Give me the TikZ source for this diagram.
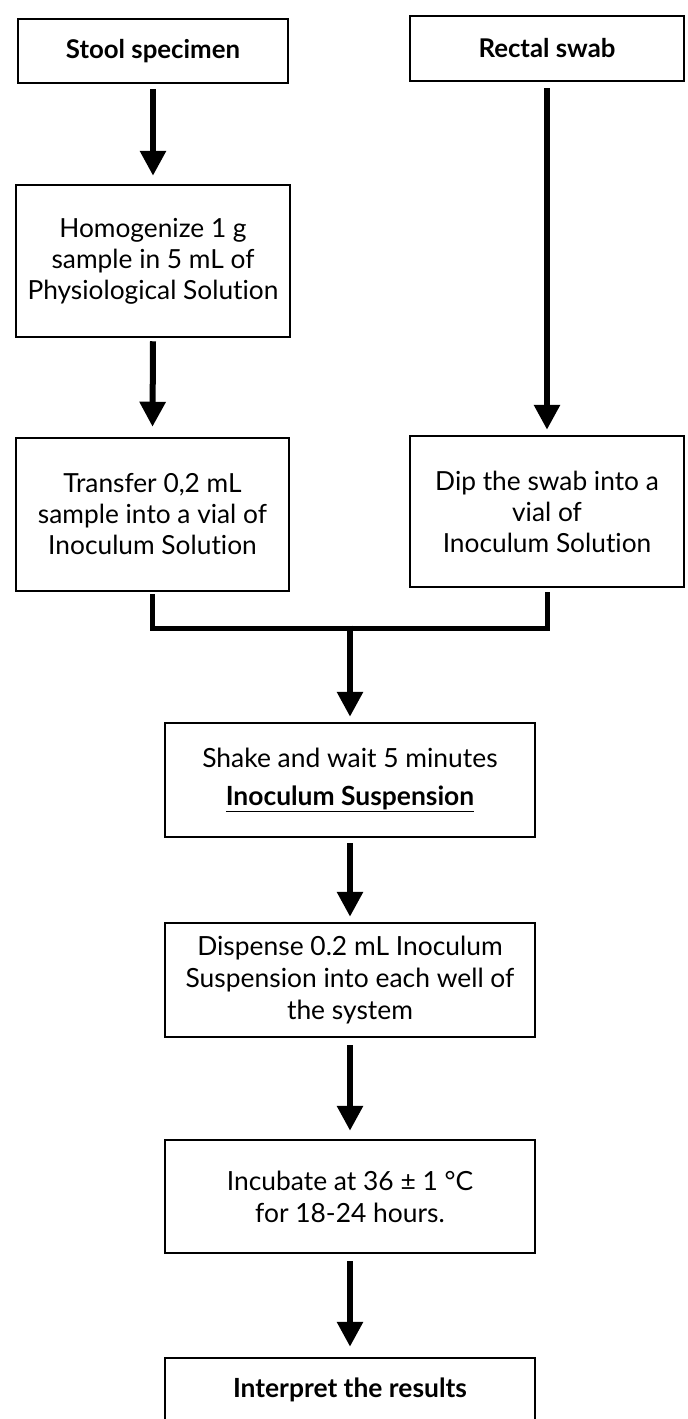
\documentclass[tikz,border=0pt]{standalone}
\usepackage{fontspec}
\setmainfont{Lato}[Ligatures={NoCommon,NoRare,NoContextual}]
\usetikzlibrary{arrows.meta}
\tikzset{
  box/.style={draw=black, line width=2.5pt, fill=white, inner sep=0pt, align=center},
  upbox/.style={box, font=\fontsize{26.3}{31}\selectfont},
  upbold/.style={box, font=\bfseries\fontsize{25.8}{31}\selectfont},
  lowbox/.style={box, font=\fontsize{26.4}{32}\selectfont, minimum width=370pt},
  flow/.style={line width=6pt, -{Triangle[width=25pt,length=25pt]}},
  link/.style={line width=5pt}
}
\begin{document}
\begin{tikzpicture}[x=1pt,y=-1pt]
\useasboundingbox (0,0) rectangle (688,1419);
\begin{scope}
\clip (0,0) rectangle (688,1419);
\node[upbold, minimum width=270pt, minimum height=64pt] (stool) at (153,51) {Stool specimen};
\node[upbold, minimum width=274pt, minimum height=65pt] (rectal) at (547,48.5) {Rectal swab};
\node[upbox, minimum width=274pt, minimum height=152pt] (homog) at (153,261) {Homogenize 1 g\\sample in 5 mL of\\Physiological Solution};
\node[upbox, minimum width=273pt, minimum height=153pt] (transfer) at (152.5,514.5) {Transfer 0,2 mL\\sample into a vial of\\Inoculum Solution};
\node[upbox, minimum width=274pt, minimum height=151pt] (dip) at (547,511.5) {Dip the swab into a\\vial of\\Inoculum Solution};
\node[lowbox, minimum height=114pt, font=\fontsize{26.4}{38}\selectfont] (shake) at (350,780) {Shake and wait 5 minutes\\\textbf{\underline{Inoculum Suspension}}};
\node[lowbox, minimum height=114pt] (disp) at (350,980) {Dispense 0.2 mL Inoculum\\Suspension into each well of\\the system};
\node[lowbox, minimum height=113pt] (incub) at (350,1196.5) {Incubate at 36 ± 1 °C\\for 18-24 hours.};
\node[lowbox, minimum height=64pt, font=\bfseries\fontsize{26.4}{32}\selectfont] (interp) at (350,1390) {Interpret the results};

\draw[flow] ([yshift=-5pt]stool.south) -- ([yshift=8pt]homog.north);
\draw[flow] ([yshift=-3pt]homog.south) -- ([yshift=10pt]transfer.north);
\draw[flow] ([yshift=-6pt]rectal.south) -- ([yshift=5pt]dip.north);
\coordinate (j) at (350,628);
\draw[link] ([yshift=-2pt]transfer.south) -- (transfer.south |- j) -- (dip.south |- j) -- ([yshift=-4pt]dip.south);
\draw[flow] ([yshift=2.5pt]j) -- ([yshift=5pt]shake.north);
\draw[flow] ([yshift=-5pt]shake.south) -- ([yshift=5pt]disp.north);
\draw[flow] ([yshift=-7pt]disp.south) -- ([yshift=8pt]incub.north);
\draw[flow] ([yshift=-7pt]incub.south) -- ([yshift=10pt]interp.north);
\end{scope}
\end{tikzpicture}
\end{document}
